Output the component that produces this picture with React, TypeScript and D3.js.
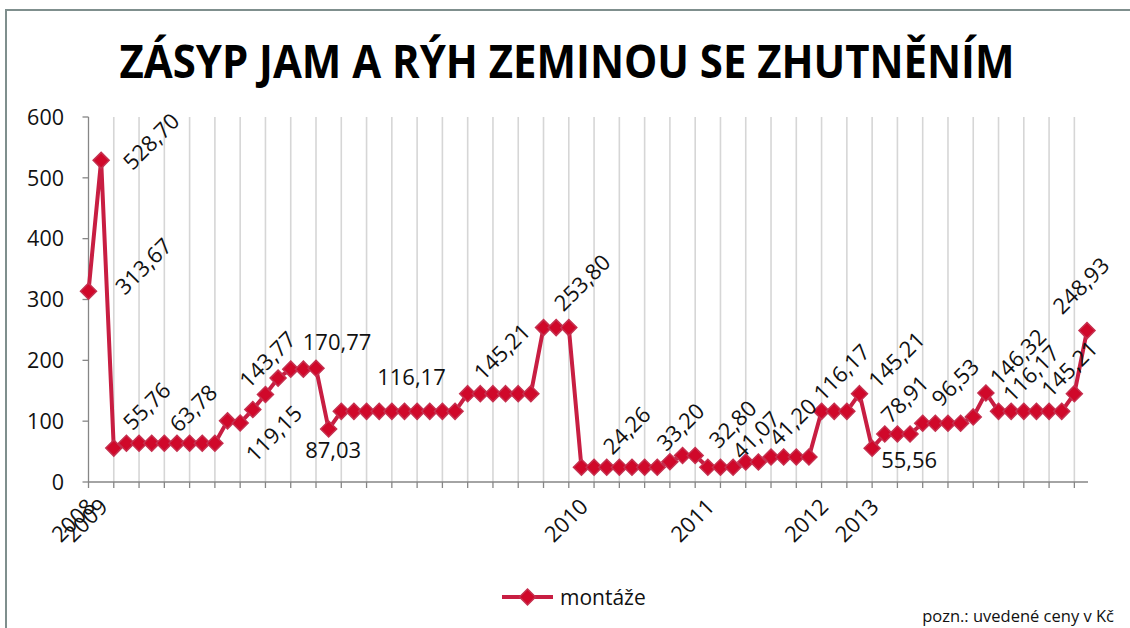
import React from "react";
import * as d3 from "d3";

// ---- data ----
const title = "ZÁSYP JAM A RÝH ZEMINOU SE ZHUTNĚNÍM";
const seriesName = "montáže";
const footnote = "pozn.: uvedené ceny v Kč";

const values: number[] = [
  313.67, 528.7, 55.76, 63.78, 63.78, 63.78, 63.78, 63.78, 63.78, 63.78,
  63.78, 100.5, 97.0, 119.15, 143.77, 170.77, 185.5, 185.5, 187.0, 87.03,
  116.17, 116.17, 116.17, 116.17, 116.17, 116.17, 116.17, 116.17, 116.17, 116.17,
  145.21, 145.21, 145.21, 145.21, 145.21, 145.21, 253.8, 253.8, 253.8, 24.26,
  24.26, 24.26, 24.26, 24.26, 24.26, 24.26, 33.2, 43.5, 43.5, 24.26,
  24.26, 24.26, 32.8, 32.8, 41.07, 41.2, 41.2, 41.2, 116.17, 116.17,
  116.17, 145.21, 55.56, 78.91, 78.91, 78.91, 96.53, 96.53, 96.53, 96.53,
  107.0, 146.32, 116.17, 116.17, 116.17, 116.17, 116.17, 116.17, 145.21, 248.93,
];

// category labels: only year boundaries are named
const yearLabels: string[] = ["2008", "2009", "2010", "2011", "2012", "2013"];
const yearIndex: number[] = [0, 1, 39, 49, 58, 62];

const yTicks: number[] = [0, 100, 200, 300, 400, 500, 600];

// indices of points that carry a value label
const labeledIndex: number[] = [0, 1, 2, 6, 13, 14, 15, 19, 25, 32, 37, 41, 46, 52, 54, 55, 58, 61, 62, 63, 67, 71, 73, 78, 79];

// ---- layout (label offsets from their point, rotation) ----
const labelPlacement: { dx: number; dy: number; rot: boolean }[] = [
  { dx: 55, dy: -25, rot: true },
  { dx: 50, dy: -19, rot: true },
  { dx: 33, dy: -42, rot: true },
  { dx: 29, dy: -35, rot: true },
  { dx: 21, dy: 24, rot: true },
  { dx: 2, dy: -35, rot: true },
  { dx: 59, dy: -36, rot: false },
  { dx: 4.5, dy: 21.5, rot: false },
  { dx: 7, dy: -34, rot: false },
  { dx: 9, dy: -42, rot: true },
  { dx: 26, dy: -45, rot: true },
  { dx: 20, dy: -37, rot: true },
  { dx: 10.5, dy: -35, rot: true },
  { dx: -13, dy: -38, rot: true },
  { dx: -15, dy: -22, rot: true },
  { dx: 9, dy: -35, rot: true },
  { dx: 20, dy: -39, rot: true },
  { dx: 37, dy: -34, rot: true },
  { dx: 37, dy: 12, rot: false },
  { dx: 20, dy: -35, rot: true },
  { dx: 20, dy: -41, rot: true },
  { dx: 32, dy: -36, rot: true },
  { dx: 20, dy: -38, rot: true },
  { dx: -5, dy: -25, rot: true },
  { dx: -6, dy: -45, rot: true },
];

const W = 1130;
const H = 628;
const FONT = "'Open Sans', 'Noto Sans', sans-serif";
const LINE_COLOR = "#c81e42";
const MARKER_FILL = "#d0082a";
const MARKER_STROKE = "#c5304f";

const fmt = (v: number) => v.toFixed(2).replace(".", ",");

function Diamond({ cx, cy, r }: { cx: number; cy: number; r: number }) {
  const d = `M${cx},${cy - r}L${cx + r},${cy}L${cx},${cy + r}L${cx - r},${cy}Z`;
  return <path d={d} fill={MARKER_FILL} stroke={MARKER_STROKE} strokeWidth={1.5} />;
}

export default function App() {
  const plotLeft = 88.5;
  const plotRight = 1087;
  const plotTop = 117;
  const plotBottom = 482;

  const x = d3.scaleLinear().domain([0, values.length - 1]).range([plotLeft, plotRight]);
  const y = d3.scaleLinear().domain([0, 600]).range([plotBottom, plotTop]);

  const line = d3
    .line<number>()
    .x((_, i) => x(i))
    .y((v) => y(v));

  const tickIdx = d3.range(0, values.length, 2);

  return (
    <svg
      width={W}
      height={H}
      style={{ position: "absolute", left: 0, top: 0, display: "block", background: "#fff" }}
      fontFamily={FONT}
    >
      <rect x={0} y={0} width={W} height={H} fill="#fff" />
      {/* chart frame (only top and left edges visible) */}
      <rect x={6} y={10} width={W + 40} height={H + 40} fill="none" stroke="#7f8f8d" strokeWidth={2} />

      {/* title */}
      <text
        x={567}
        y={78}
        textAnchor="middle"
        fontSize={46}
        fontWeight={700}
        textLength={895}
        lengthAdjust="spacingAndGlyphs"
        fill="#000"
      >
        {title}
      </text>

      {/* vertical gridlines */}
      {tickIdx
        .filter((i) => i > 0)
        .map((i) => (
          <line key={"g" + i} x1={x(i)} x2={x(i)} y1={plotTop} y2={plotBottom} stroke="#d6d6d6" strokeWidth={1.6} />
        ))}

      {/* y axis */}
      <line x1={plotLeft} x2={plotLeft} y1={plotTop} y2={plotBottom} stroke="#868686" strokeWidth={1.3} />
      {yTicks.map((t) => (
        <g key={"y" + t}>
          <line x1={plotLeft - 6} x2={plotLeft} y1={y(t)} y2={y(t)} stroke="#868686" strokeWidth={1.3} />
          <text x={64} y={y(t)} dy="0.36em" textAnchor="end" fontSize={21.5} fill="#111">
            {t}
          </text>
        </g>
      ))}

      {/* x axis */}
      <line x1={plotLeft} x2={plotRight + 1} y1={plotBottom} y2={plotBottom} stroke="#868686" strokeWidth={1.3} />
      {tickIdx.map((i) => (
        <line key={"xt" + i} x1={x(i)} x2={x(i)} y1={plotBottom} y2={plotBottom + 6} stroke="#868686" strokeWidth={1.3} />
      ))}
      {yearLabels.map((lab, k) => {
        const px = x(yearIndex[k]) + 8;
        const py = 508;
        return (
          <text
            key={"xl" + k}
            x={px}
            y={py}
            textAnchor="end"
            fontSize={22}
            fill="#111"
            transform={`rotate(-45 ${px} ${py})`}
          >
            {lab}
          </text>
        );
      })}

      {/* series line */}
      <path d={line(values) || ""} fill="none" stroke={LINE_COLOR} strokeWidth={4} strokeLinejoin="round" />
      {values.map((v, i) => (
        <Diamond key={"m" + i} cx={x(i)} cy={y(v)} r={8} />
      ))}

      {/* value labels */}
      {labeledIndex.map((idx, k) => {
        const p = labelPlacement[k];
        const cx = x(idx) + p.dx;
        const cy = y(values[idx]) + p.dy;
        return (
          <text
            key={"l" + k}
            x={cx}
            y={cy}
            dy="0.36em"
            textAnchor="middle"
            fontSize={22}
            fill="#111"
            transform={p.rot ? `rotate(-45 ${cx} ${cy})` : undefined}
          >
            {fmt(values[idx])}
          </text>
        );
      })}

      {/* legend */}
      <line x1={502} x2={553} y1={597} y2={597} stroke={LINE_COLOR} strokeWidth={4} />
      <Diamond cx={527.5} cy={597} r={8} />
      <text x={560} y={597} dy="0.36em" fontSize={21} fill="#111">
        {seriesName}
      </text>

      {/* footnote */}
      <text x={1114} y={622} textAnchor="end" fontSize={16.5} fill="#111">
        {footnote}
      </text>
    </svg>
  );
}
